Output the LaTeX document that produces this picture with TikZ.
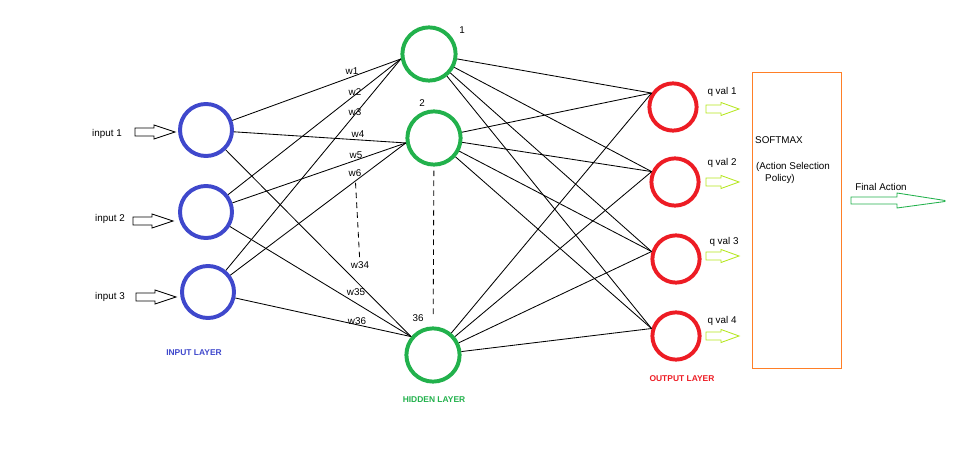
\documentclass[tikz,border=0pt]{standalone}
\usepackage{fontspec}
\setmainfont{Liberation Sans}
\usepackage{tikz}
\usetikzlibrary{calc}
\definecolor{inblue}{HTML}{3F48CC}
\definecolor{hidgreen}{HTML}{22B14C}
\definecolor{outred}{HTML}{ED1C24}
\definecolor{boxorange}{HTML}{FF7F27}
\definecolor{qlime}{HTML}{B5E61D}

\begin{document}
\begin{tikzpicture}[
    x=0.025cm, y=-0.025cm,
    neuron/.style={circle, line width=2.8pt, inner sep=0pt},
    lbl/.style={font=\fontsize{7}{8}\selectfont, inner sep=0pt},
    layerlbl/.style={font=\fontsize{6}{7}\selectfont\bfseries, inner sep=0pt},
    conn/.style={line width=0.6pt}
]
\useasboundingbox (0,0) rectangle (978,464);

% layers
\node[neuron, draw=inblue, minimum size=1.3cm] (in1) at (206,130) {};
\node[neuron, draw=inblue, minimum size=1.3cm] (in2) at (206,212) {};
\node[neuron, draw=inblue, minimum size=1.3cm] (in3) at (208,292) {};
\node[neuron, draw=hidgreen, minimum size=1.33cm] (h1) at (429,54) {};
\node[neuron, draw=hidgreen, minimum size=1.33cm] (h2) at (434,138) {};
\node[neuron, draw=hidgreen, minimum size=1.33cm] (h36) at (433,355) {};
\node[neuron, draw=outred, minimum size=1.18cm] (o1) at (673,107) {};
\node[neuron, draw=outred, minimum size=1.18cm] (o2) at (675,182) {};
\node[neuron, draw=outred, minimum size=1.18cm] (o3) at (676,259) {};
\node[neuron, draw=outred, minimum size=1.18cm] (o4) at (676,336) {};

% weights
\foreach \i in {in1,in2,in3} {
    \draw[conn] (\i) -- (h1.190);
    \draw[conn] (\i) -- (h2.190);
    \draw[conn] (\i) -- (h36.140);
}
\foreach \h in {h1,h2,h36}
    \foreach \o/\a in {o1/147,o2/156,o3/163,o4/163}
        \draw[conn] (\h) -- (\o.\a);
\draw[conn, dash pattern=on 4pt off 3pt, shorten <=0.1cm, shorten >=0.3cm] (h2) -- (h36);

\node[lbl] at (462,30) {1};
\node[lbl] at (422,103) {2};
\node[lbl] at (418,318) {36};

\node[lbl] (w1) at (352,71) {w1};
\node[lbl] (w2) at (355,92) {w2};
\node[lbl] (w3) at (355,112) {w3};
\node[lbl] (w4) at (358,134) {w4};
\node[lbl] (w5) at (356,155) {w5};
\node[lbl] (w6) at (355,173) {w6};
\node[lbl] (w34) at (360,265) {w34};
\node[lbl] (w35) at (356,292) {w35};
\node[lbl] (w36) at (357,321) {w36};
\draw[conn, dash pattern=on 4pt off 3pt, shorten <=0.15cm] (w6) -- (w34);

% inputs
\node[lbl] (lin1) at (107,134) {input 1};
\node[lbl] (lin2) at (110,219) {input 2};
\node[lbl] (lin3) at (110,297) {input 3};
\foreach \x/\y in {135/132, 133/221, 136/297}
    \draw[conn] (\x,\y-4) -- ++(19,0) -- ++(0,-3) -- (\x+40,\y) -- (\x+19,\y+7) -- ++(0,-3) -- (\x,\y+4) -- cycle;

% outputs
\node[lbl] (q1) at (722,92) {q val 1};
\node[lbl] (q2) at (722,163) {q val 2};
\node[lbl] (q3) at (724,242) {q val 3};
\node[lbl] (q4) at (722,321) {q val 4};
\foreach \y in {109,182,256,336}
    \draw[conn, qlime] (706,\y-4) -- ++(15,0) -- ++(0,-2.5) -- (739,\y) -- (721,\y+6.5) -- ++(0,-2.5) -- (706,\y+4) -- cycle;

% softmax
\node[draw=boxorange, line width=0.6pt, minimum width=2.225cm, minimum height=7.4cm] (smax) at (796.5,220) {};
\node[lbl] at (779,140) {SOFTMAX};
\node[lbl] at (793,167) {(Action Selection};
\node[lbl] at (780,179) {Policy)};
\node[lbl] (fin) at (881,187) {Final Action};
\draw[conn, hidgreen] (851,197) -- (897,197) -- (897,193) -- (945,200.5) -- (945,201.5) -- (897,208) -- (897,204) -- (851,204) -- cycle;

% layer names
\node[layerlbl, text=inblue] at (194,353) {INPUT LAYER};
\node[layerlbl, text=hidgreen] at (434,400) {HIDDEN LAYER};
\node[layerlbl, text=outred] at (682,379) {OUTPUT LAYER};
\end{tikzpicture}
\end{document}
